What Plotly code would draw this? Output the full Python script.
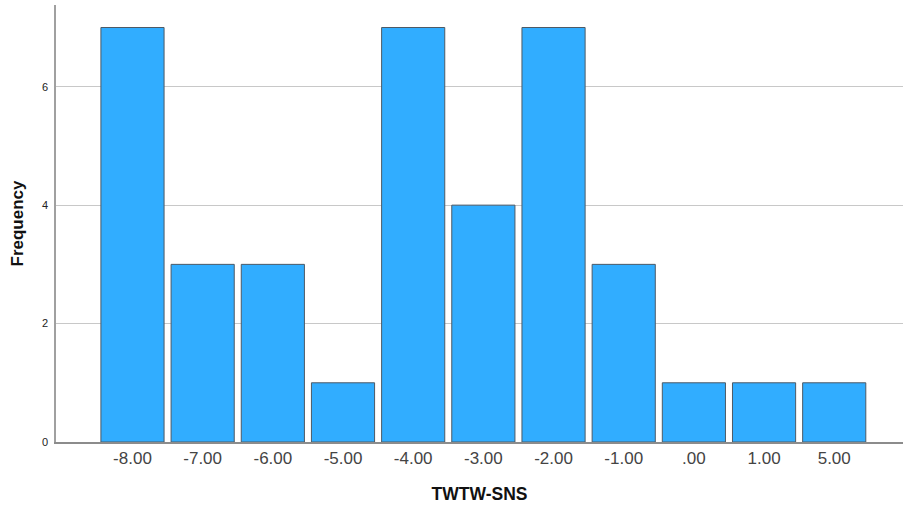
import plotly.graph_objects as go

categories = ["-8.00", "-7.00", "-6.00", "-5.00", "-4.00", "-3.00", "-2.00", "-1.00", ".00", "1.00", "5.00"]
frequencies = [7, 3, 3, 1, 7, 4, 7, 3, 1, 1, 1]
y_ticks = [0, 2, 4, 6]

fig = go.Figure(go.Bar(
    x=categories, y=frequencies,
    width=0.9,
    marker=dict(color="#31adff", line=dict(color="#4d5a66", width=1)),
))

fig.update_layout(
    width=903, height=507,
    margin=dict(l=56, r=0, t=5, b=65),
    plot_bgcolor="white", paper_bgcolor="white",
    font=dict(family="Liberation Sans, Arial, sans-serif", color="#333333"),
    showlegend=False,
    bargap=0.1,
)
fig.update_xaxes(
    type="category", range=[-1.09, 10.98], automargin=False,
    showline=True, linecolor="#8c8c8c", linewidth=1.5,
    showgrid=False, ticks="",
    tickfont=dict(size=17, color="#444444"),
    title=dict(text="<b>TWTW-SNS</b>", font=dict(size=17.5, color="#111111"), standoff=21),
)
fig.update_yaxes(
    range=[0, 7.38], automargin=False,
    tickvals=y_ticks,
    showline=True, linecolor="#a0a0a0", linewidth=1.5,
    showgrid=True, gridcolor="#c8c8c8", gridwidth=1,
    zeroline=False, ticks="",
    tickfont=dict(size=11, color="#222222"),
    ticklabelstandoff=4,
    title=dict(text="<b>Frequency</b>", font=dict(size=17, color="#111111"), standoff=14),
)

fig.write_html("out.html", config={"displayModeBar": False},
               post_script="document.body.style.margin='0px';")
